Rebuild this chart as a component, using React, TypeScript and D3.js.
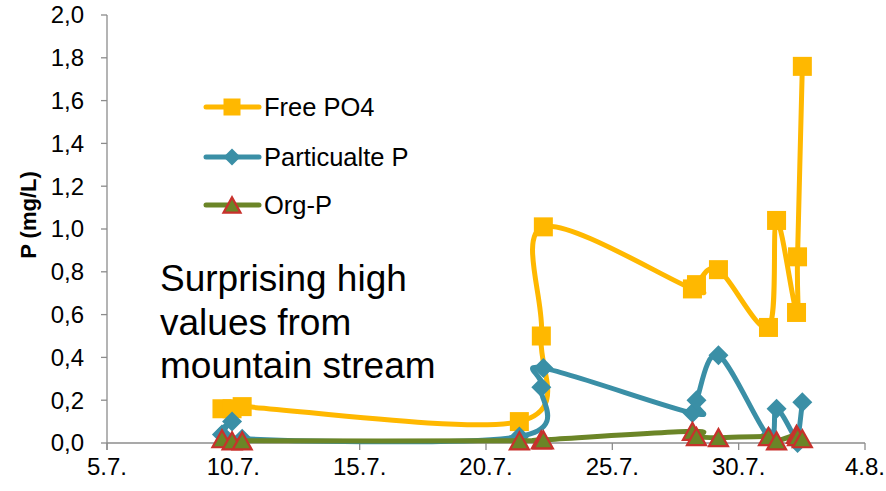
import React from "react";
import * as d3 from "d3";

// Sampling times, as (fractional) day of July 2013
const sampleDays = [9.55, 9.95, 10.35, 21.32, 22.19, 22.27, 28.17, 28.33, 29.2, 31.18, 31.5, 32.29, 32.33, 32.52];

// Phosphorus fractions (mg/L)
const freePO4 = [0.16, 0.16, 0.17, 0.1, 0.5, 1.01, 0.72, 0.74, 0.81, 0.54, 1.04, 0.61, 0.87, 1.76];
const particulateP = [0.04, 0.1, 0.02, 0.03, 0.26, 0.35, 0.14, 0.2, 0.41, 0.03, 0.16, 0.01, 0.0, 0.19];
const orgP = [0.02, 0.01, 0.01, 0.01, 0.015, 0.015, 0.055, 0.03, 0.025, 0.03, 0.01, 0.04, 0.03, 0.02];

const seriesNames = ["Free PO4", "Particualte P", "Org-P"];
const yTicks = [0, 0.2, 0.4, 0.6, 0.8, 1.0, 1.2, 1.4, 1.6, 1.8, 2.0];
const xTickStepDays = 5;
const yTitle = "P (mg/L)";
const noteLines = ["Surprising high", "values from", "mountain stream"];

const W = 886;
const H = 491;
const FONT = "'Liberation Sans', Arial, sans-serif";

const dayToDate = (d: number) => new Date(Date.UTC(2013, 6, 1) + (d - 1) * 864e5);
const xStart = new Date(Date.UTC(2013, 6, 5));
const xEnd = new Date(Date.UTC(2013, 7, 4));

const x = d3.scaleUtc().domain([xStart, xEnd]).range([107, 865]);
const y = d3.scaleLinear().domain([0, 2]).range([443, 15]);

const xTicks = d3.range(0, 31, xTickStepDays).map((i) => d3.utcDay.offset(xStart, i));
const fmtX = d3.utcFormat("%-d.%-m.");
const fmtY = (v: number) => d3.format(".1f")(v).replace(".", ",");

const lineGen = d3
  .line<[Date, number]>()
  .x((d) => x(d[0]))
  .y((d) => y(d[1]))
  .curve(d3.curveCardinal.tension(0));

const COLORS = {
  po4: "#FFB800",
  part: "#3A8FA6",
  org: "#6B8527",
  orgStroke: "#C8312C",
  axis: "#8C8C8C",
};

type MarkerKind = "square" | "diamond" | "triangle";

function Marker({ kind, cx, cy, size }: { kind: MarkerKind; cx: number; cy: number; size: number }) {
  if (kind === "square") {
    return <rect x={cx - size / 2} y={cy - size / 2} width={size} height={size} fill={COLORS.po4} />;
  }
  if (kind === "diamond") {
    const r = size / 2;
    return (
      <path
        d={`M${cx},${cy - r}L${cx + r},${cy}L${cx},${cy + r}L${cx - r},${cy}Z`}
        fill={COLORS.part}
      />
    );
  }
  const w = size;
  const h = size * 0.9;
  return (
    <path
      d={`M${cx},${cy - h / 2}L${cx + w / 2},${cy + h / 2}L${cx - w / 2},${cy + h / 2}Z`}
      fill={COLORS.org}
      stroke={COLORS.orgStroke}
      strokeWidth={2.2}
      strokeLinejoin="miter"
    />
  );
}

const series: { name: string; values: number[]; color: string; marker: MarkerKind; size: number }[] = [
  { name: seriesNames[0], values: freePO4, color: COLORS.po4, marker: "square", size: 19 },
  { name: seriesNames[1], values: particulateP, color: COLORS.part, marker: "diamond", size: 20 },
  { name: seriesNames[2], values: orgP, color: COLORS.org, marker: "triangle", size: 19 },
];

export default function App() {
  const legendY = [107, 157, 205];
  return (
    <svg
      width={W}
      height={H}
      style={{ position: "absolute", left: 0, top: 0, background: "#fff" }}
      fontFamily={FONT}
    >
      {/* axes */}
      <g stroke={COLORS.axis} strokeWidth={1.3} fill="none">
        <line x1={x(xStart)} x2={x(xStart)} y1={y(2)} y2={y(0) + 7} />
        <line x1={x(xStart)} x2={x(xEnd)} y1={y(0)} y2={y(0)} />
        {yTicks.map((t) => (
          <line key={"yt" + t} x1={x(xStart) - 6} x2={x(xStart)} y1={y(t)} y2={y(t)} />
        ))}
        {xTicks.map((t, i) => (
          <line key={"xt" + i} x1={x(t)} x2={x(t)} y1={y(0)} y2={y(0) + 7} />
        ))}
      </g>
      <g fontSize={24} fill="#000">
        {yTicks.map((t) => (
          <text key={"yl" + t} x={84} y={y(t)} dy="0.35em" textAnchor="end">
            {fmtY(t)}
          </text>
        ))}
        {xTicks.map((t, i) => (
          <text key={"xl" + i} x={x(t)} y={475} textAnchor="middle">
            {fmtX(t)}
          </text>
        ))}
      </g>
      <text
        transform={`translate(36,215) rotate(-90)`}
        textAnchor="middle"
        fontSize={22}
        fontWeight="bold"
        fill="#000"
      >
        {yTitle}
      </text>

      {/* series */}
      {series.map((s) => {
        const pts: [Date, number][] = sampleDays.map((d, i) => [dayToDate(d), s.values[i]]);
        return (
          <g key={s.name}>
            <path d={lineGen(pts) || ""} fill="none" stroke={s.color} strokeWidth={5} strokeLinejoin="round" strokeLinecap="round" />
            {pts.map((p, i) => (
              <Marker key={i} kind={s.marker} cx={x(p[0])} cy={y(p[1])} size={s.size} />
            ))}
          </g>
        );
      })}

      {/* legend */}
      {series.map((s, i) => (
        <g key={"lg" + s.name}>
          <line x1={206} x2={259} y1={legendY[i]} y2={legendY[i]} stroke={s.color} strokeWidth={5} strokeLinecap="round" />
          <Marker kind={s.marker} cx={232} cy={legendY[i]} size={s.marker === "diamond" ? 17 : 17} />
          <text x={264} y={legendY[i] + 9} fontSize={25.5} fill="#000">
            {s.name}
          </text>
        </g>
      ))}

      {/* note */}
      <g fontSize={37} fill="#000">
        {noteLines.map((l, i) => (
          <text key={l} x={160} y={291 + i * 43.5}>
            {l}
          </text>
        ))}
      </g>
    </svg>
  );
}
